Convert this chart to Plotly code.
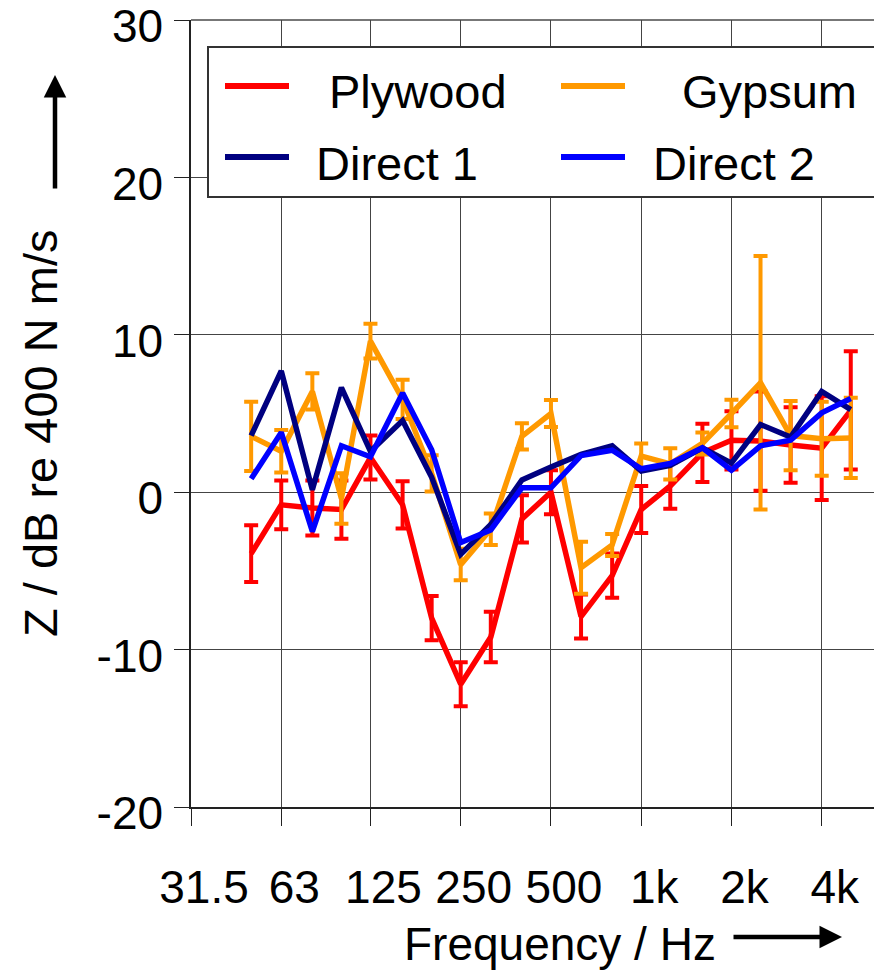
import math
import plotly.graph_objects as go

# One-third-octave band centre frequencies (Hz)
freq = [50, 63, 80, 100, 125, 160, 200, 250, 315, 400, 500, 630, 800,
        1000, 1250, 1600, 2000, 2500, 3150, 4000, 5000]

# Impedance level Z (dB re 400 N m/s) with standard deviations
plywood = [-3.9, -0.8, -1.0, -1.1, 2.2, -0.8, -8.0, -12.2, -9.2, -1.7, 0.0,
           -7.9, -5.3, -1.1, 0.4, 2.5, 3.3, 3.25, 3.0, 2.8, 5.2]
plywood_sd = [1.8, 1.55, 1.75, 1.85, 1.4, 1.5, 1.4, 1.4, 1.6, 1.5, 1.4,
              1.4, 1.4, 1.5, 1.45, 1.85, 1.85, 3.15, 2.4, 3.3, 3.75]

gypsum = [3.55, 2.6, 6.4, -0.4, 9.6, 5.9, 1.2, -4.6, -2.35, 3.55, 5.0,
          -4.8, -3.35, 2.3, 1.8, 3.1, 5.0, 6.95, 3.6, 3.4, 3.45]
gypsum_sd = [2.2, 1.35, 1.15, 1.6, 1.1, 1.25, 1.15, 1.0, 1.0, 0.83, 0.85,
             1.65, 0.7, 0.8, 1.0, 0.7, 0.87, 8.05, 2.2, 2.35, 2.55]

direct1 = [3.6, 7.7, 0.15, 6.65, 2.6, 4.55, 0.95, -3.95, -2.05, 0.78, 1.6,
           2.4, 2.95, 1.35, 1.7, 2.82, 1.85, 4.3, 3.5, 6.4, 5.25]
direct2 = [0.85, 3.8, -2.5, 2.95, 2.25, 6.3, 2.7, -3.2, -2.4, 0.28, 0.28,
           2.33, 2.67, 1.49, 1.82, 2.82, 1.4, 2.95, 3.3, 5.04, 5.95]

# Axis ticks
x_tickvals = [31.5, 63, 125, 250, 500, 1000, 2000, 4000]
x_ticktext = ["31.5", "63", "125", "250", "500", "1k", "2k", "4k"]
y_tickvals = [-20, -10, 0, 10, 20, 30]
y_ticktext = ["-20", "-10", "0", "10", "20", "30"]

names = ["Plywood", "Gypsum", "Direct 1", "Direct 2"]
colors = ["#FF0000", "#FF9900", "#000080", "#0000FF"]

FONT = "Liberation Sans, Arial, Helvetica, sans-serif"

W, H = 874, 970
ML, MR, MT, MB = 191, 0, 20, 163
PW = W - ML - MR
PH = H - MT - MB


def px(x):
    return (x - ML) / PW


def py(y):
    return (H - MB - y) / PH


fig = go.Figure()

series = [(plywood, plywood_sd), (gypsum, gypsum_sd), (direct1, None), (direct2, None)]
for (vals, sd), name, col in zip(series, names, colors):
    kw = {}
    if sd is not None:
        kw["error_y"] = dict(type="data", array=sd, symmetric=True,
                             color=col, thickness=4, width=7)
    fig.add_trace(go.Scatter(x=freq, y=vals, mode="lines", name=name,
                             line=dict(color=col, width=5.5),
                             showlegend=False, **kw))

# x range: 90.25 px per octave starting at 31.5 Hz
oct_px = 90.25
x_lo = math.log10(31.5)
x_hi = x_lo + (PW / oct_px) * math.log10(2)

fig.update_xaxes(
    type="log", range=[x_lo, x_hi], automargin=False,
    tickmode="array", tickvals=x_tickvals, ticktext=x_ticktext,
    showgrid=True, gridcolor="#444444", gridwidth=1.2,
    showline=True, linecolor="#222222", linewidth=2,
    ticks="outside", ticklen=17, tickcolor="#222222", tickwidth=1,
    tickfont=dict(family=FONT, size=46, color="black"),
    ticklabelstandoff=22, ticklabelshift=13,
    zeroline=False,
)
fig.update_yaxes(
    range=[-20, 30], automargin=False,
    tickmode="array", tickvals=y_tickvals, ticktext=y_ticktext,
    showgrid=True, gridcolor="#444444", gridwidth=1.2,
    showline=True, linecolor="#222222", linewidth=1.5,
    ticks="outside", ticklen=15, tickcolor="#222222", tickwidth=1,
    tickfont=dict(family=FONT, size=46, color="black"),
    ticklabelstandoff=2, ticklabelshift=6, ticklabeloverflow="allow",
    zeroline=False,
)

# Top frame line of the plotting area
shapes = [dict(type="line", xref="paper", yref="paper", x0=0, x1=1, y0=1, y1=1,
               line=dict(color="#777777", width=2), layer="below")]

# Legend box drawn as a framed panel
shapes.append(dict(type="rect", xref="paper", yref="paper",
                   x0=px(208), x1=px(885), y0=py(197), y1=py(47),
                   line=dict(color="#333333", width=2), fillcolor="white",
                   layer="above"))
legend_rows = [
    (names[0], colors[0], 225, 289, 86, 327, 91.5),
    (names[1], colors[1], 561, 625, 86, 680, 91.5),
    (names[2], colors[2], 225, 289, 157, 314, 163.5),
    (names[3], colors[3], 561, 625, 157, 651, 163.5),
]
annotations = []
for name, col, lx0, lx1, ly, tx, ty in legend_rows:
    shapes.append(dict(type="line", xref="paper", yref="paper",
                       x0=px(lx0), x1=px(lx1), y0=py(ly), y1=py(ly),
                       line=dict(color=col, width=6), layer="above"))
    annotations.append(dict(xref="paper", yref="paper", x=px(tx), y=py(ty),
                            text=name, showarrow=False, xanchor="left",
                            yanchor="middle",
                            font=dict(family=FONT, size=47, color="black")))

# Axis titles
annotations.append(dict(xref="paper", yref="paper", x=px(40), y=py(434),
                        text="Z / dB re 400 N m/s", textangle=-90,
                        showarrow=False, xanchor="center", yanchor="middle",
                        font=dict(family=FONT, size=47, color="black")))
annotations.append(dict(xref="paper", yref="paper", x=px(560), y=py(944),
                        text="Frequency / Hz", showarrow=False,
                        xanchor="center", yanchor="middle",
                        font=dict(family=FONT, size=46, color="black")))

# Direction arrows next to the axis titles
annotations.append(dict(xref="paper", yref="paper", x=px(55), y=py(75),
                        axref="pixel", ayref="pixel", ax=0, ay=115,
                        text="", showarrow=True, arrowhead=2, arrowsize=1,
                        arrowwidth=4.5, arrowcolor="black"))
annotations.append(dict(xref="paper", yref="paper", x=px(842), y=py(937),
                        axref="pixel", ayref="pixel", ax=-110, ay=0,
                        text="", showarrow=True, arrowhead=2, arrowsize=1,
                        arrowwidth=4.5, arrowcolor="black"))

fig.update_layout(
    width=W, height=H,
    margin=dict(l=ML, r=MR, t=MT, b=MB, pad=0, autoexpand=False),
    paper_bgcolor="white", plot_bgcolor="white",
    shapes=shapes, annotations=annotations,
    showlegend=False,
    font=dict(family=FONT, color="black"),
)

fig.write_html("out.html")
